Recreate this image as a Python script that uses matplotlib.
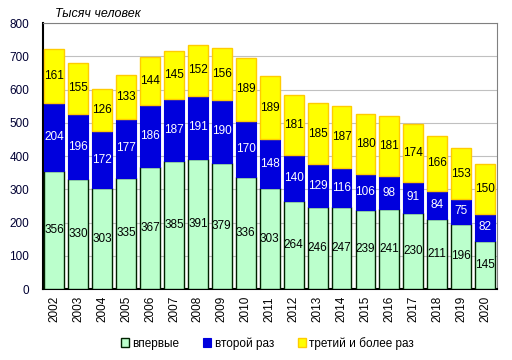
import matplotlib.pyplot as plt
import numpy as np

plt.rcParams['font.family'] = ['Liberation Sans', 'DejaVu Sans']

years = [str(y) for y in range(2002, 2021)]
first = [356, 330, 303, 335, 367, 385, 391, 379, 336, 303, 264, 246, 247, 239, 241, 230, 211, 196, 145]
second = [204, 196, 172, 177, 186, 187, 191, 190, 170, 148, 140, 129, 116, 106, 98, 91, 84, 75, 82]
third = [161, 155, 126, 133, 144, 145, 152, 156, 189, 189, 181, 185, 187, 180, 181, 174, 166, 153, 150]
series_names = ["впервые", "второй раз", "третий и более раз"]

fig = plt.figure(figsize=(5.12, 3.6), dpi=100)
ax = fig.add_axes([0.084, 0.197, 0.887, 0.739])

x = np.arange(len(years))
w = 0.83
first_a = np.array(first)
second_a = np.array(second)
third_a = np.array(third)

b1 = ax.bar(x, first_a, w, color="#BBFFCC", edgecolor="#002200", linewidth=1.0, zorder=3)
b2 = ax.bar(x, second_a, w, bottom=first_a, color="#0000DD", edgecolor="#0000DD", linewidth=0.8, zorder=3)
b3 = ax.bar(x, third_a, w, bottom=first_a + second_a, color="#FFFF00", edgecolor="#FFCC00", linewidth=1.0, zorder=3)

for i in range(len(years)):
    ax.text(x[i], first_a[i] / 2, str(first[i]), ha="center", va="center", fontsize=8.5, color="black", zorder=4)
    ax.text(x[i], first_a[i] + second_a[i] / 2, str(second[i]), ha="center", va="center", fontsize=8.5, color="white", zorder=4)
    ax.text(x[i], first_a[i] + second_a[i] + third_a[i] / 2, str(third[i]), ha="center", va="center", fontsize=8.5, color="black", zorder=4)

ax.set_ylim(0, 800)
ax.set_xlim(-0.47, len(years) - 0.5)
ax.set_yticks(range(0, 801, 100))
ax.tick_params(axis="y", labelsize=8.5, length=0, pad=10, labelcolor="#000033")
ax.set_xticks(x)
ax.set_xticklabels(years, rotation=90, fontsize=8.5)
ax.tick_params(axis="x", length=0, pad=5)
ax.yaxis.grid(True, color="#C0C0C0", linewidth=0.8, zorder=0)
ax.set_axisbelow(True)

ax.spines["left"].set_color("black")
ax.spines["left"].set_linewidth(1.5)
ax.spines["bottom"].set_color("black")
ax.spines["bottom"].set_linewidth(1.5)
ax.spines["top"].set_color("#808080")
ax.spines["right"].set_color("#808080")

fig.text(0.107, 0.962, "Тысяч человек", fontsize=9, style="italic", ha="left", va="center")

leg = ax.legend([b1, b2, b3], series_names, loc="center", bbox_to_anchor=(0.494, -0.203),
                ncol=3, frameon=False, fontsize=8.5, handlelength=0.7, handleheight=0.7,
                columnspacing=2.0, handletextpad=0.3)

fig.savefig("out.png", dpi=100)
